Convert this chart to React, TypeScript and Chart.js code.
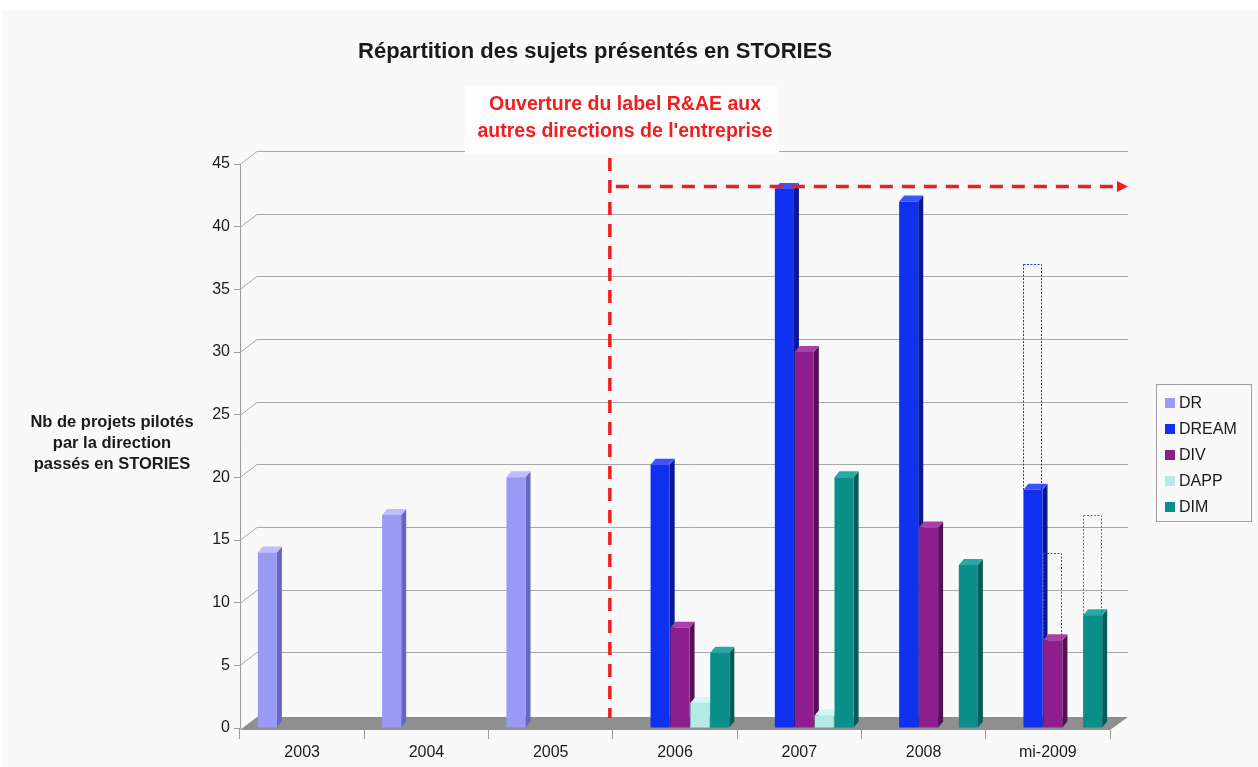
import React, { useEffect, useRef } from 'react';
import { Chart, registerables } from 'chart.js';

Chart.register(...registerables);

// ---------- data ----------
const CATEGORIES = ['2003', '2004', '2005', '2006', '2007', '2008', 'mi-2009'];
const DR = [14, 17, 20, null, null, null, null];
const DREAM = [null, null, null, 21, 43, 42, 19];
const DIV = [null, null, null, 8, 30, 16, 7];
const DAPP = [null, null, null, 2, 1, null, null];
const DIM = [null, null, null, 6, 20, 13, 9];
// dotted "expected" totals for mi-2009
const DREAM_TARGET = [null, null, null, null, null, null, 37];
const DIV_TARGET = [null, null, null, null, null, null, 14];
const DIM_TARGET = [null, null, null, null, null, null, 17];
const Y_MIN = 0;
const Y_MAX = 45;
const Y_STEP = 5;
const ARROW_LEVEL = 43.2;

const TITLE = 'Répartition des sujets présentés en STORIES';
const NOTE_LINES = ['Ouverture du label R&AE aux', "autres directions de l'entreprise"];
const Y_TITLE_LINES = ['Nb de projets pilotés', 'par la direction', 'passés en STORIES'];

// ---------- styles ----------
const FONT = "'Liberation Sans', Arial, Helvetica, sans-serif";
const TEXT = '#1a1a1a';
const RED = '#f01e1e';
const SERIES = [
  { label: 'DR', data: DR, front: '#9a9af6', side: '#6767c2', top: '#bdbdff' },
  { label: 'DREAM', data: DREAM, front: '#1030f0', side: '#0a1896', top: '#3a55ff' },
  { label: 'DIV', data: DIV, front: '#8d1e8b', side: '#560f55', top: '#a940a7' },
  { label: 'DAPP', data: DAPP, front: '#b4ebe5', side: '#84c2bb', top: '#d3f7f2' },
  { label: 'DIM', data: DIM, front: '#0a8e89', side: '#055c58', top: '#26aaa4' },
];
const TARGETS = [
  { parent: 'DREAM', target: DREAM_TARGET, actual: DREAM, outline: '#2a2ae0' },
  { parent: 'DIV', target: DIV_TARGET, actual: DIV, outline: '#a01ca0' },
  { parent: 'DIM', target: DIM_TARGET, actual: DIM, outline: '#0a9a92' },
];

const DEPTH_X = 17;
const DEPTH_Y = 13;
const BAR_DX = 5;
const BAR_DY = 6;
const SHIFT = 5;

export default function App() {
  const ref = useRef<HTMLCanvasElement | null>(null);

  useEffect(() => {
    document.body.style.margin = '0';
    const canvas = ref.current;
    if (!canvas) return;

    const mainDatasets = SERIES.map((s) => ({
      label: s.label,
      data: s.data,
      stack: s.label,
      backgroundColor: s.front,
      borderWidth: 0,
    }));
    const targetDatasets = TARGETS.map((t) => ({
      label: t.parent + ' prévu',
      data: t.target.map((v, i) => (v == null ? null : v - (t.actual[i] ?? 0))),
      stack: t.parent,
      backgroundColor: 'rgba(0,0,0,0)',
      borderWidth: 0,
    }));
    const nMain = mainDatasets.length;

    const decor = {
      id: 'decor',
      beforeDraw(chart: any) {
        const { ctx, width, height } = chart;
        ctx.save();
        ctx.fillStyle = '#ffffff';
        ctx.fillRect(0, 0, width, height);
        ctx.fillStyle = '#f9f9f9';
        ctx.fillRect(3, 10, width - 3, height - 10);
        ctx.restore();
      },
      beforeDatasetsDraw(chart: any) {
        const { ctx, chartArea } = chart;
        const y = chart.scales.y;
        const { left, right, bottom } = chartArea;
        ctx.save();
        // back-wall gridlines
        ctx.strokeStyle = '#a9a9a9';
        ctx.lineWidth = 1;
        for (let v = Y_MIN + Y_STEP; v <= Y_MAX; v += Y_STEP) {
          const py = Math.round(y.getPixelForValue(v)) + 0.5;
          ctx.beginPath();
          ctx.moveTo(left, py);
          ctx.lineTo(left + DEPTH_X, py - DEPTH_Y);
          ctx.lineTo(right + DEPTH_X + 1, py - DEPTH_Y);
          ctx.stroke();
        }
        // floor
        ctx.fillStyle = '#8f8f8f';
        ctx.beginPath();
        ctx.moveTo(left, bottom + 2);
        ctx.lineTo(right, bottom + 2);
        ctx.lineTo(right + DEPTH_X + 1, bottom - 11);
        ctx.lineTo(left + DEPTH_X, bottom - 11);
        ctx.closePath();
        ctx.fill();
        // box behind the note
        ctx.fillStyle = '#fdfdfd';
        ctx.fillRect(465, 86, 314, 68);
        ctx.restore();

        // 3D facets of the bars
        ctx.save();
        ctx.translate(SHIFT, 0);
        for (let i = 0; i < CATEGORIES.length; i++) {
          for (let d = 0; d < nMain; d++) {
            const v = SERIES[d].data[i];
            if (v == null || v === 0) continue;
            const el = chart.getDatasetMeta(d).data[i];
            if (!el) continue;
            const p = el.getProps(['x', 'y', 'base', 'width'], true);
            const l = p.x - p.width / 2;
            const r = p.x + p.width / 2;
            ctx.fillStyle = SERIES[d].side;
            ctx.beginPath();
            ctx.moveTo(r, p.y);
            ctx.lineTo(r + BAR_DX, p.y - BAR_DY);
            ctx.lineTo(r + BAR_DX, p.base - BAR_DY);
            ctx.lineTo(r, p.base);
            ctx.closePath();
            ctx.fill();
            ctx.fillStyle = SERIES[d].top;
            ctx.beginPath();
            ctx.moveTo(l, p.y);
            ctx.lineTo(l + BAR_DX, p.y - BAR_DY);
            ctx.lineTo(r + BAR_DX, p.y - BAR_DY);
            ctx.lineTo(r, p.y);
            ctx.closePath();
            ctx.fill();
          }
        }
      },
      afterDatasetsDraw(chart: any) {
        const { ctx } = chart;
        // dotted outlines of the expected totals
        ctx.lineWidth = 1;
        ctx.setLineDash([2, 1.5]);
        TARGETS.forEach((t, k) => {
          const meta = chart.getDatasetMeta(nMain + k);
          meta.data.forEach((el: any, i: number) => {
            const val = t.target[i];
            if (val == null) return;
            const p = el.getProps(['x', 'y', 'base', 'width'], true);
            ctx.strokeStyle = t.outline;
            ctx.strokeRect(
              Math.round(p.x - p.width / 2) + 0.5,
              Math.round(p.y) + 0.5,
              Math.round(p.width) - 1,
              Math.round(p.base - p.y)
            );
          });
        });
        ctx.setLineDash([]);
        ctx.restore();
      },
      afterDraw(chart: any) {
        const { ctx, chartArea } = chart;
        const x = chart.scales.x;
        const y = chart.scales.y;
        ctx.save();
        ctx.textAlign = 'center';
        ctx.textBaseline = 'middle';
        // title
        ctx.fillStyle = TEXT;
        ctx.font = `bold 22px ${FONT}`;
        ctx.fillText(TITLE, 595, 52);
        // note
        ctx.fillStyle = RED;
        ctx.font = `bold 19.5px ${FONT}`;
        NOTE_LINES.forEach((t, i) => ctx.fillText(t, 625, 105 + i * 27));
        // y title
        ctx.fillStyle = TEXT;
        ctx.font = `bold 16.5px ${FONT}`;
        Y_TITLE_LINES.forEach((t, i) => ctx.fillText(t, 112, 422 + i * 21));

        // red dashed vertical separator
        const sepX = (x.getPixelForValue(2) + x.getPixelForValue(3)) / 2 - 3;
        ctx.strokeStyle = RED;
        ctx.lineWidth = 3.5;
        ctx.setLineDash([13, 9]);
        ctx.beginPath();
        ctx.moveTo(sepX, y.top - 6);
        ctx.lineTo(sepX, chartArea.bottom - 10);
        ctx.stroke();
        // red dashed arrow
        const ay = y.getPixelForValue(ARROW_LEVEL);
        const endX = chartArea.right + DEPTH_X + 1;
        ctx.beginPath();
        ctx.moveTo(sepX + 6, ay);
        ctx.lineTo(endX - 10, ay);
        ctx.stroke();
        ctx.setLineDash([]);
        ctx.fillStyle = RED;
        ctx.beginPath();
        ctx.moveTo(endX - 11, ay - 5.5);
        ctx.lineTo(endX, ay);
        ctx.lineTo(endX - 11, ay + 5.5);
        ctx.closePath();
        ctx.fill();

        // legend
        ctx.strokeStyle = '#a0a0a0';
        ctx.lineWidth = 1;
        ctx.strokeRect(1156.5, 384.5, 95, 137);
        ctx.textAlign = 'left';
        ctx.font = `16px ${FONT}`;
        SERIES.forEach((s, i) => {
          const cy = 403 + i * 26;
          ctx.fillStyle = s.front;
          ctx.fillRect(1165, cy - 5, 10, 10);
          ctx.fillStyle = TEXT;
          ctx.fillText(s.label, 1179, cy + 1);
        });
        ctx.restore();
      },
    };

    const chart = new Chart(canvas, {
      type: 'bar',
      data: {
        labels: CATEGORIES,
        datasets: [...mainDatasets, ...targetDatasets] as any,
      },
      options: {
        animation: false,
        responsive: false,
        devicePixelRatio: 1,
        layout: { padding: { left: 0, right: 148, top: 164, bottom: 0 } },
        datasets: { bar: { categoryPercentage: 0.8, barPercentage: 0.96 } } as any,
        plugins: {
          legend: { display: false },
          title: { display: false },
          tooltip: { enabled: false },
        },
        scales: {
          x: {
            stacked: true,
            offset: true,
            grid: {
              display: true,
              drawOnChartArea: false,
              drawTicks: true,
              tickLength: 11,
              color: '#9a9a9a',
              offset: true,
            },
            border: { display: false },
            ticks: {
              font: { family: FONT, size: 16 },
              color: TEXT,
              padding: 4,
              maxRotation: 0,
              autoSkip: false,
            },
            afterFit: (s: any) => {
              s.height = 39;
            },
          },
          y: {
            stacked: true,
            min: Y_MIN,
            max: Y_MAX,
            ticks: {
              stepSize: Y_STEP,
              font: { family: FONT, size: 16 },
              color: TEXT,
              padding: 4,
            },
            grid: {
              display: true,
              drawOnChartArea: false,
              drawTicks: true,
              tickLength: 6,
              color: '#9a9a9a',
            },
            border: { display: true, color: '#9a9a9a' },
            afterFit: (s: any) => {
              s.width = 240;
            },
          },
        } as any,
      },
      plugins: [decor],
    });

    return () => chart.destroy();
  }, []);

  return (
    <div style={{ width: 1258, height: 767, position: 'relative' }}>
      <canvas ref={ref} width={1258} height={767} style={{ display: 'block' }} />
    </div>
  );
}
